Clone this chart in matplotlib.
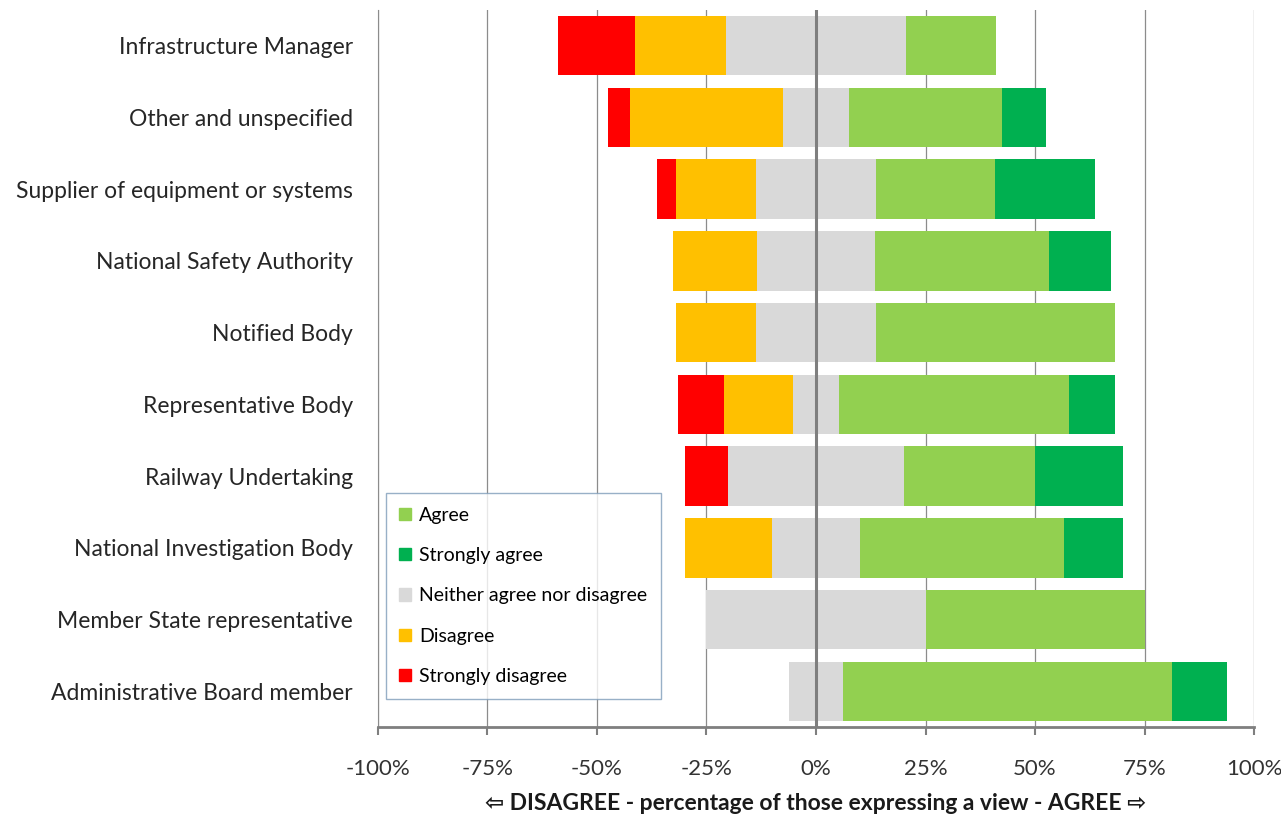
import numpy as np
import matplotlib
matplotlib.use('Agg')
import matplotlib.pyplot as plt
from matplotlib.patches import Patch

# categories, top to bottom as shown
categories = ['Infrastructure Manager', 'Other and unspecified',
              'Supplier of equipment or systems', 'National Safety Authority',
              'Notified Body', 'Representative Body', 'Railway Undertaking',
              'National Investigation Body', 'Member State representative',
              'Administrative Board member']

# shares in % of those expressing a view
strongly_disagree = [17.6, 5.0, 4.5, 0.0, 0.0, 10.5, 10.0, 0.0, 0.0, 0.0]
disagree = [20.6, 35.0, 18.2, 19.1, 18.2, 15.8, 0.0, 20.0, 0.0, 0.0]
neutral = [41.2, 15.0, 27.3, 27.0, 27.3, 10.5, 40.0, 20.0, 50.0, 12.5]
agree = [20.6, 35.0, 27.3, 39.7, 54.5, 52.6, 30.0, 46.7, 50.0, 75.0]
strongly_agree = [0.0, 10.0, 22.7, 14.2, 0.0, 10.5, 20.0, 13.3, 0.0, 12.5]

xticks = [-100, -75, -50, -25, 0, 25, 50, 75, 100]

c_sa = '#00B050'
c_a = '#92D050'
c_n = '#D9D9D9'
c_d = '#FFC000'
c_sd = '#FF0000'

plt.rcParams['font.family'] = ['Lato', 'DejaVu Sans']

fig = plt.figure(figsize=(12.81, 8.18), dpi=100)
ax = fig.add_axes([0.295, 0.111, 0.684, 0.877])

y = np.arange(len(categories))
sd = np.array(strongly_disagree)
d = np.array(disagree)
n = np.array(neutral)
a = np.array(agree)
sa = np.array(strongly_agree)
h = 0.83

# centre the neutral block on zero, stack outward
ax.barh(y, n / 2, left=0, height=h, color=c_n, zorder=2)
ax.barh(y, -n / 2, left=0, height=h, color=c_n, zorder=2)
ax.barh(y, a, left=n / 2, height=h, color=c_a, zorder=2)
ax.barh(y, sa, left=n / 2 + a, height=h, color=c_sa, zorder=2)
ax.barh(y, -d, left=-n / 2, height=h, color=c_d, zorder=2)
ax.barh(y, -sd, left=-n / 2 - d, height=h, color=c_sd, zorder=2)

ax.set_xlim(-100, 100)
ax.set_ylim(len(categories) - 0.5, -0.5)
ax.set_yticks(y)
ax.set_yticklabels(categories, fontsize=16.5, color='#262626')
ax.tick_params(axis='y', length=0, pad=18)

ax.set_xticks(xticks)
ax.set_xticklabels([f'{t}%' for t in xticks], fontsize=16, color='#333333')
ax.tick_params(axis='x', length=6, width=1.5, color='#7f7f7f', pad=17)

for t in xticks:
    if t == 0:
        ax.axvline(0, color='#7f7f7f', lw=2.2, zorder=3)
    else:
        ax.axvline(t, color='#8c8c8c', lw=0.9, zorder=1)

for s in ['top', 'right']:
    ax.spines[s].set_visible(False)
ax.spines['left'].set_color('#8c8c8c')
ax.spines['bottom'].set_color('#7f7f7f')
ax.spines['bottom'].set_linewidth(2)

ax.set_xlabel('\u21e6 DISAGREE - percentage of those expressing a view - AGREE \u21e8',
              fontsize=16.5, fontweight='bold', color='#1a1a1a', labelpad=10)

handles = [Patch(color=c_a, label='Agree'),
           Patch(color=c_sa, label='Strongly agree'),
           Patch(color=c_n, label='Neither agree nor disagree'),
           Patch(color=c_d, label='Disagree'),
           Patch(color=c_sd, label='Strongly disagree')]
leg = ax.legend(handles=handles, loc='lower left', bbox_to_anchor=(0.009, 0.04),
                fontsize=14, frameon=True, fancybox=False, labelspacing=1.2,
                handlelength=0.6, handleheight=0.6, handletextpad=0.4,
                borderpad=0.7, borderaxespad=0)
leg.get_frame().set_edgecolor('#7f9db9')
leg.get_frame().set_linewidth(1)
leg.set_zorder(5)

fig.savefig('out.png', dpi=100)
